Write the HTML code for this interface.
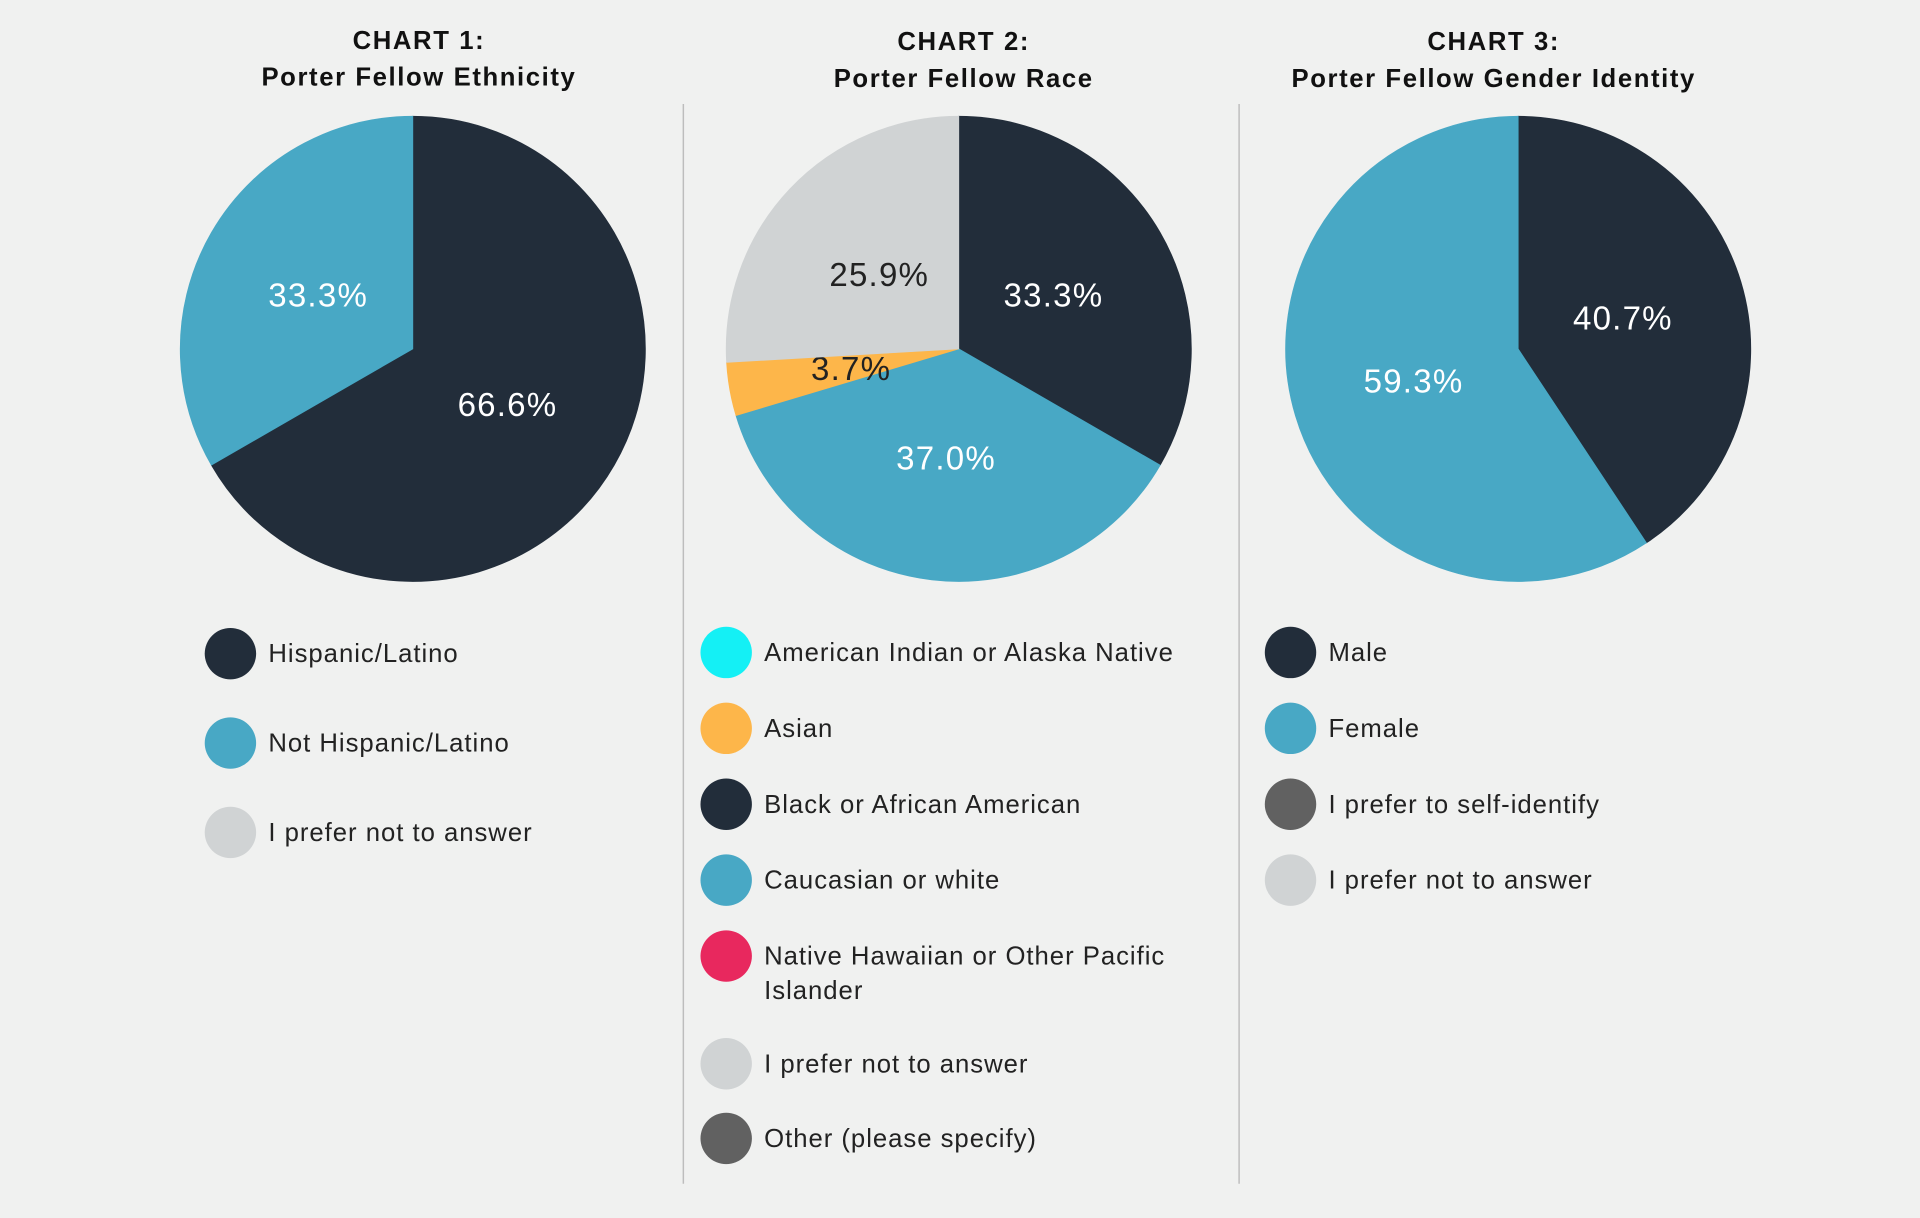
<!DOCTYPE html>
<html><head><meta charset="utf-8"><style>
html,body{margin:0;padding:0;background:#f0f1f0;}
svg{display:block;font-family:"Liberation Sans",sans-serif;}
</style></head><body>
<svg id="chart" width="1920" height="1218" viewBox="0 0 1568 995" xmlns="http://www.w3.org/2000/svg">
<rect width="1568" height="995" fill="#f0f1f0"/>
<line x1="558" y1="85" x2="558" y2="967" stroke="#bdbdbd" stroke-width="1.2"/>
<line x1="1012" y1="85" x2="1012" y2="967" stroke="#bdbdbd" stroke-width="1.2"/>
<g font-weight="bold" font-size="21" fill="#111" text-anchor="middle" letter-spacing="1.3">
<text x="342" y="40">CHART 1:</text>
<text x="342" y="70">Porter Fellow Ethnicity</text>
<text x="787" y="41">CHART 2:</text>
<text x="787" y="71">Porter Fellow Race</text>
<text x="1220" y="41">CHART 3:</text>
<text x="1220" y="71">Porter Fellow Gender Identity</text>
</g>
<g id="pies"></g>
<g id="legends" font-size="21" fill="#222" letter-spacing="0.8"></g>
</svg>
<script>
const c1Categories = ["Hispanic/Latino","Not Hispanic/Latino","I prefer not to answer"];
const c1Values = [66.6, 33.3, 0];
const c2Categories = ["American Indian or Alaska Native","Asian","Black or African American","Caucasian or white","Native Hawaiian or Other Pacific Islander","I prefer not to answer","Other (please specify)"];
const c2Values = [0, 3.7, 33.3, 37.0, 0, 25.9, 0];
const c3Categories = ["Male","Female","I prefer to self-identify","I prefer not to answer"];
const c3Values = [40.7, 59.3, 0, 0];

const NS="http://www.w3.org/2000/svg";
const pies=document.getElementById('pies'), legends=document.getElementById('legends');
const DARK="#222d3a", BLUE="#48a8c5", GREY="#d0d3d4", ORANGE="#fdb64a", CYAN="#14f0f5", PINK="#e8285e", DGREY="#616161";
function mk(t,a,p){const e=document.createElementNS(NS,t);for(const k in a)e.setAttribute(k,a[k]);(p||pies).appendChild(e);return e;}
function pt(cx,cy,r,f){const a=f*2*Math.PI;return [cx+r*Math.sin(a),cy-r*Math.cos(a)];}

function pie(id,cx,cy,r,values,order,colors,labelColors){
  const total=values.reduce((a,b)=>a+b,0);
  let acc=0;
  order.forEach(i=>{
    const v=values[i]; if(v<=0) return;
    const f0=acc/total, f1=(acc+v)/total; acc+=v;
    const [x0,y0]=pt(cx,cy,r,f0),[x1,y1]=pt(cx,cy,r,f1);
    const large=(f1-f0)>0.5?1:0;
    const p=mk('path',{d:`M${cx},${cy}L${x0},${y0}A${r},${r} 0 ${large} 1 ${x1},${y1}Z`,fill:colors[i],stroke:colors[i],'stroke-width':0.6});
    
    
    const [lx,ly]=pt(cx,cy,r*0.47,(f0+f1)/2);
    const t=mk('text',{x:lx,y:ly+10,'text-anchor':'middle','font-size':27,'letter-spacing':1,fill:labelColors[i]});
    t.textContent=v.toFixed(1)+'%';
    
    
  });
}
pie('chart1',337,285,190,c1Values,[0,1,2],[DARK,BLUE,GREY],['#fff','#fff','#222']);
pie('chart2',783,285,190,c2Values,[2,3,1,5,0,4,6],[CYAN,ORANGE,DARK,BLUE,PINK,GREY,DGREY],['#222','#222','#fff','#fff','#fff','#222','#fff']);
pie('chart3',1240,285,190,c3Values,[0,1,2,3],[DARK,BLUE,DGREY,GREY],['#fff','#fff','#fff','#222']);

function legend(id,x,ys,cats,colors,lines){
  cats.forEach((c,i)=>{
    const g=mk('g',{},legends);
    
    
    mk('circle',{cx:x,cy:ys[i],r:21,fill:colors[i]},g);
    const t=mk('text',{x:x+31,y:ys[i]+7},g);
    const ls=(lines&&lines[i])||[c];
    ls.forEach((l,j)=>{const s=mk('tspan',{x:x+31,dy:j?28:0},t);s.textContent=l;});
  });
}
legend('chart1',188,[534,607,680],c1Categories,[DARK,BLUE,GREY]);
legend('chart2',593,[533,595,657,719,781,869,930],c2Categories,[CYAN,ORANGE,DARK,BLUE,PINK,GREY,DGREY],{4:["Native Hawaiian or Other Pacific","Islander"]});
legend('chart3',1054,[533,595,657,719],c3Categories,[DARK,BLUE,DGREY,GREY]);
</script>
</body></html>
